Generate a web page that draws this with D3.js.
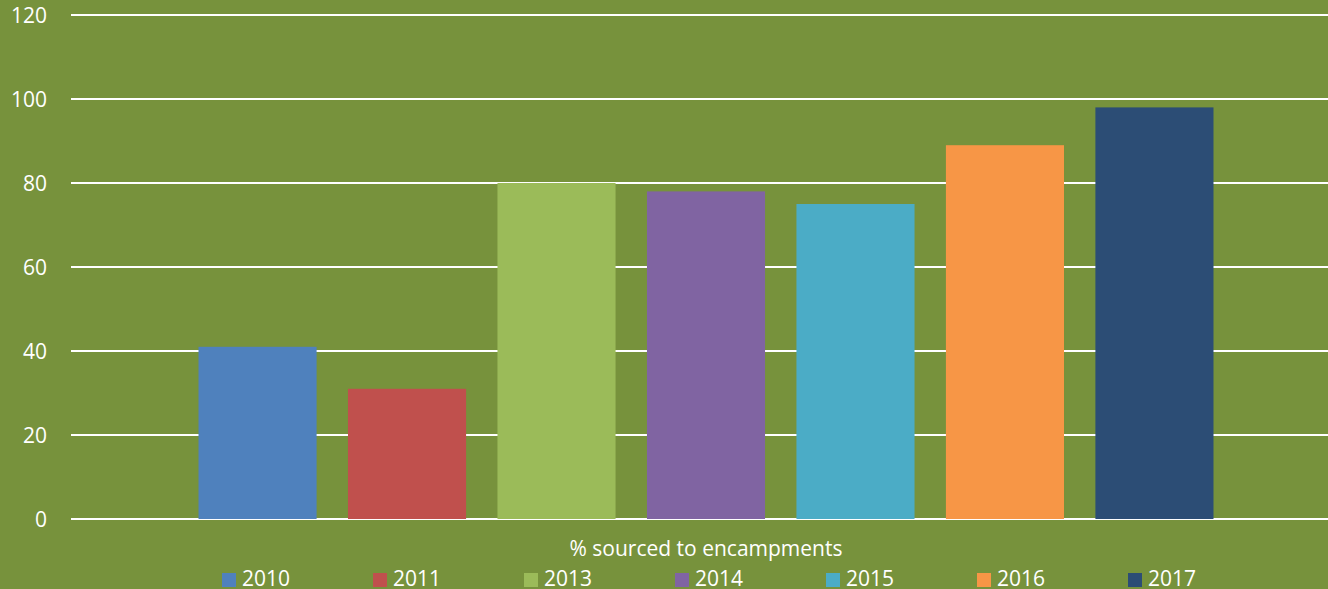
<!DOCTYPE html>
<html><head><meta charset="utf-8">
<script src="https://cdn.jsdelivr.net/npm/d3@7"></script>
<style>html,body{margin:0;padding:0;background:#77923C;overflow:hidden}</style>
</head><body>
<svg id="c" width="1328" height="589"></svg>
<script>
const years = ["2010","2011","2013","2014","2015","2016","2017"];
const values = [41, 31, 80, 78, 75, 89, 98];
const colors = ["#4F81BD","#C0504D","#9BBB59","#8064A2","#4BACC6","#F79646","#2C4D75"];
const yTicks = [0,20,40,60,80,100,120];
const category = "% sourced to encampments";

(function(){
const svg = d3.select("#c");
const W = 1328, H = 589;
const font = "'Open Sans', sans-serif";
const fs = "21px";
svg.append("rect").attr("width",W).attr("height",H).attr("fill","#77923C");

const mLeft = 71, mRight = 1341, mTop = 15, mBottom = 519;
const y = d3.scaleLinear().domain([0,120]).range([mBottom, mTop]);
const x = d3.scaleBand().domain(years).range([mLeft, mRight]).paddingInner(0.21).paddingOuter(0.853);

// gridlines
svg.append("g").selectAll("line").data(yTicks).join("line")
  .attr("x1", mLeft).attr("x2", W).attr("y1", d=>y(d)).attr("y2", d=>y(d))
  .attr("stroke","#ffffff").attr("stroke-width",2);

// y axis labels
const yAxis = d3.axisLeft(y).tickValues(yTicks).tickSize(0).tickPadding(0);
const ga = svg.append("g").attr("transform",`translate(47,0)`).call(yAxis);
ga.select(".domain").remove();
ga.selectAll("text").attr("fill","#ffffff").style("font-family",font).style("font-size",fs).attr("dy","0.36em");

// bars
svg.append("g").selectAll("rect").data(years).join("rect")
  .attr("x", d=>x(d)).attr("width", x.bandwidth())
  .attr("y", (d,i)=>y(values[i])).attr("height",(d,i)=>y(0)-y(values[i]))
  .attr("fill",(d,i)=>colors[i]);

// category label
svg.append("text").attr("x", (mLeft+mRight)/2).attr("y", 556).attr("text-anchor","middle")
  .attr("fill","#ffffff").style("font-family",font).style("font-size",fs).text(category);

// legend
const lg = svg.append("g");
const item = lg.selectAll("g").data(years).join("g")
  .attr("transform",(d,i)=>`translate(${222 + i*151},0)`);
item.append("rect").attr("x",0).attr("y",573).attr("width",14).attr("height",14).attr("fill",(d,i)=>colors[i]);
item.append("text").attr("x",20).attr("y",586).attr("fill","#ffffff")
  .style("font-family",font).style("font-size",fs).text(d=>d);
})();
</script>
</body></html>
